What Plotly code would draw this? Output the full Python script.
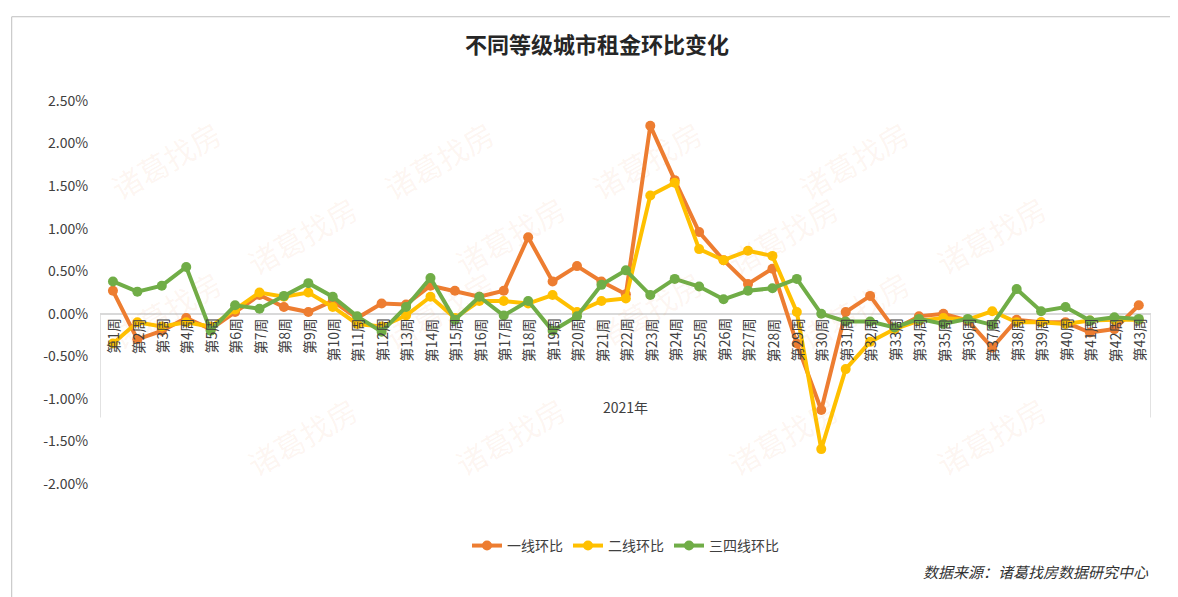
import plotly.graph_objects as go

#Data
weeks = list(range(1, 44))
week_labels = ["第" + str(w) + "周" for w in weeks]
tier1 = [0.27, -0.30, -0.20, -0.05, -0.18, 0.02, 0.22, 0.08, 0.02, 0.15,
         -0.05, 0.12, 0.11, 0.33, 0.27, 0.20, 0.27, 0.90, 0.38, 0.56,
         0.38, 0.23, 2.21, 1.57, 0.96, 0.63, 0.35, 0.53, -0.35, -1.13,
         0.02, 0.21, -0.18, -0.03, 0.00, -0.08, -0.40, -0.07, -0.10, -0.10,
         -0.22, -0.18, 0.10]
tier2 = [-0.35, -0.10, -0.15, -0.10, -0.15, 0.05, 0.25, 0.20, 0.25, 0.08,
         -0.12, -0.15, -0.02, 0.20, -0.05, 0.15, 0.15, 0.12, 0.22, 0.02,
         0.15, 0.18, 1.39, 1.54, 0.76, 0.63, 0.74, 0.68, 0.02, -1.59,
         -0.65, -0.33, -0.18, -0.08, -0.05, -0.07, 0.03, -0.10, -0.10, -0.12,
         -0.08, -0.07, -0.07]
tier34 = [0.38, 0.26, 0.33, 0.55, -0.20, 0.10, 0.06, 0.21, 0.36, 0.20,
          -0.03, -0.21, 0.08, 0.42, -0.07, 0.20, -0.02, 0.15, -0.20, -0.03,
          0.34, 0.51, 0.22, 0.41, 0.32, 0.17, 0.27, 0.30, 0.41, 0.00,
          -0.09, -0.09, -0.16, -0.06, -0.12, -0.06, -0.13, 0.29, 0.03, 0.08,
          -0.08, -0.04, -0.06]
y_ticks = [-2.0, -1.5, -1.0, -0.5, 0.0, 0.5, 1.0, 1.5, 2.0, 2.5]
y_tick_text = ["%.2f%%" % v for v in y_ticks]

font = "Noto Sans CJK SC"
fig = go.Figure()

#Watermarks
for i in range(4):
    for j in range(4):
        fig.add_annotation(xref="paper", yref="paper", x=0.0 + i * 0.26 + (j % 2) * 0.13,
                           y=0.98 - j * 0.33, text="诸葛找房", showarrow=False, textangle=-30,
                           font=dict(family=font, size=30, color="rgba(237,125,49,0.07)"))

series = [("一线环比", tier1, "#ED7D31"), ("二线环比", tier2, "#FFC000"), ("三四线环比", tier34, "#70AD47")]
for name, vals, color in series:
    fig.add_trace(go.Scatter(x=weeks, y=vals, mode="lines+markers", name=name,
                             line=dict(color=color, width=4), marker=dict(color=color, size=10)))

#Week labels under the zero line
for w, lab in zip(weeks, week_labels):
    fig.add_annotation(x=w, y=0, text=lab, showarrow=False, textangle=-90, yanchor="top",
                       yshift=-2, font=dict(family=font, size=14, color="#404040"))
fig.add_annotation(x=22, y=-1.1, text="2021年", showarrow=False,
                   font=dict(family=font, size=14, color="#404040"))
for xe in [0.47, 43.5]:
    fig.add_shape(type="line", x0=xe, x1=xe, y0=0, y1=-1.22, line=dict(color="#d9d9d9", width=1.5))

fig.add_annotation(xref="paper", yref="paper", x=1.0, y=-0.26, xanchor="right",
                   text="<i>数据来源：诸葛找房数据研究中心</i>", showarrow=False,
                   font=dict(family=font, size=15, color="#333333"))
fig.add_shape(type="rect", xref="paper", yref="paper", x0=-0.084, x1=1.028, y0=-0.3, y1=1.22,
              line=dict(color="#bfbfbf", width=1))

fig.update_layout(
    width=1178, height=597,
    paper_bgcolor="white", plot_bgcolor="white",
    margin=dict(l=92, r=35, t=93, b=121),
    title=dict(text="<b>不同等级城市租金环比变化</b>", x=0.5, y=0.95, xanchor="center",
               font=dict(family=font, size=22, color="#262626")),
    xaxis=dict(range=[0.47, 43.5], showticklabels=False, showgrid=False, zeroline=False),
    yaxis=dict(range=[-2.0, 2.5], tickvals=y_ticks, ticktext=y_tick_text, showgrid=False,
               zeroline=True, zerolinecolor="#d9d9d9", zerolinewidth=1.5,
               tickfont=dict(family=font, size=14, color="#404040"), ticklen=8, ticks="outside",
               tickcolor="white"),
    legend=dict(orientation="h", x=0.5, xanchor="center", y=-0.12, yanchor="top",
                font=dict(family=font, size=14, color="#404040")),
    font=dict(family=font),
)

fig.write_html("out.html")
